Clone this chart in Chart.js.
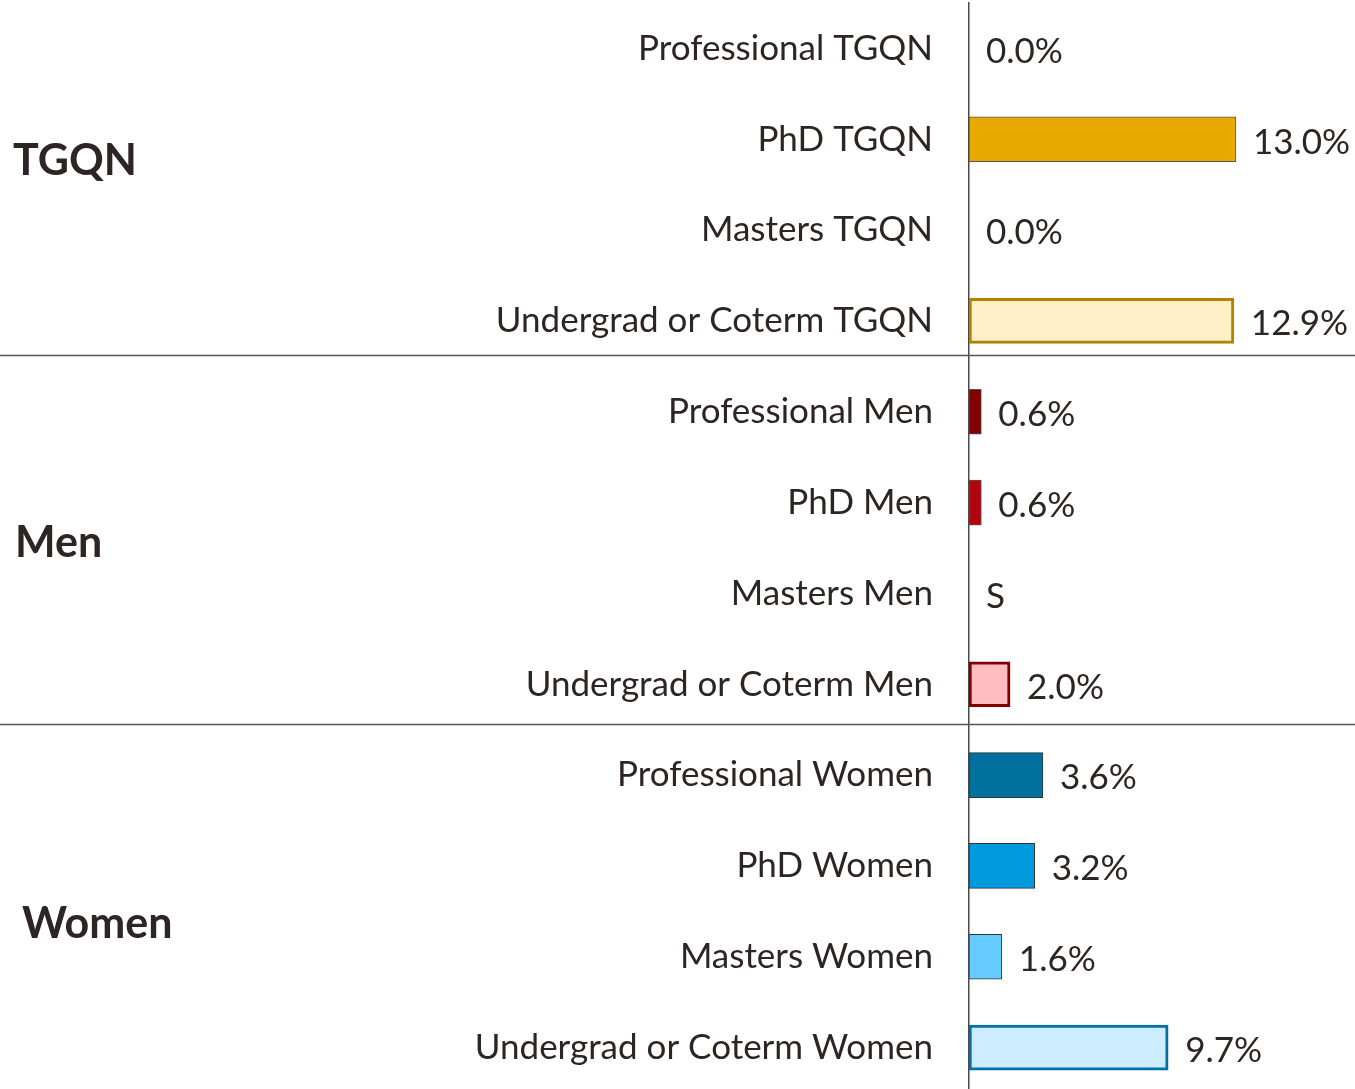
<!DOCTYPE html>
<html>
<head>
<meta charset="utf-8">
<script src="https://cdn.jsdelivr.net/npm/chart.js@4/dist/chart.umd.min.js"></script>
<style>
  html, body { margin: 0; padding: 0; background: #ffffff; overflow: hidden; }
  #wrap { width: 1355px; height: 1093px; }
</style>
</head>
<body>
<div id="wrap"><canvas id="c" width="1355" height="1093"></canvas></div>
<script>
const categories = [
  "Professional TGQN", "PhD TGQN", "Masters TGQN", "Undergrad or Coterm TGQN",
  "Professional Men", "PhD Men", "Masters Men", "Undergrad or Coterm Men",
  "Professional Women", "PhD Women", "Masters Women", "Undergrad or Coterm Women"
];
const values = [0.0, 13.0, 0.0, 12.9, 0.6, 0.6, null, 2.0, 3.6, 3.2, 1.6, 9.7];
const suppressedLabel = "S";
const groups = ["TGQN", "Men", "Women"];
const fillColors = [
  "#e8a900", "#e8a900", "#fff0c8", "#fff0c8",
  "#820000", "#b1040e", "#ffbcbf", "#ffbcbf",
  "#00709f", "#009ade", "#66ccff", "#ceecff"
];
const borderColors = [
  "#555555", "#555555", "#b38300", "#b38300",
  "#555555", "#555555", "#820000", "#820000",
  "#333333", "#333333", "#333333", "#0071a5"
];
const borderWidths = [1, 1, 3, 3, 1, 1, 3, 3, 1, 1, 1, 3];

const TEXT = "#2d2523";
const FONT = "Lato";

const overlay = {
  id: "overlay",
  afterDatasetsDraw(chart) {
    const ctx = chart.ctx;
    const y = chart.scales.y, x = chart.scales.x;
    const step = y.getPixelForValue(1) - y.getPixelForValue(0);
    ctx.save();
    // separator lines
    ctx.strokeStyle = "#555555";
    ctx.lineWidth = 1.3;
    [[3, 0.37], [7, 0.44]].forEach(([i, f]) => {
      const py = Math.round(y.getPixelForValue(i) + step * f) + 0.5;
      ctx.beginPath();
      ctx.moveTo(0, py);
      ctx.lineTo(chart.width, py);
      ctx.stroke();
    });
    // value labels
    ctx.fillStyle = TEXT;
    ctx.font = "35px " + FONT;
    ctx.textAlign = "left";
    ctx.textBaseline = "middle";
    values.forEach((v, i) => {
      const py = y.getPixelForValue(i) + 3;
      const txt = v === null ? suppressedLabel : v.toFixed(1) + "%";
      const px = x.getPixelForValue(v === null ? 0 : v) + 17;
      ctx.fillText(txt, px, py);
    });
    // group labels
    ctx.font = "bold 43px " + FONT;
    const anchors = [[1.24, 13], [5.45, 15], [9.64, 22]];
    groups.forEach((g, k) => {
      ctx.fillText(g, anchors[k][1], y.getPixelForValue(anchors[k][0]));
    });
    ctx.restore();
  }
};

new Chart(document.getElementById("c"), {
  type: "bar",
  data: {
    labels: categories,
    datasets: [{
      data: values.map(v => v === null ? 0 : v),
      backgroundColor: fillColors,
      borderColor: borderColors,
      borderWidth: borderWidths,
      borderSkipped: false,
      barThickness: 45
    }]
  },
  options: {
    indexAxis: "y",
    responsive: false,
    animation: false,
    layout: { padding: { top: 3, bottom: 0, left: 0, right: 0 } },
    plugins: { legend: { display: false }, tooltip: { enabled: false } },
    scales: {
      x: { display: false, min: 0, max: 18.8 },
      y: {
        afterFit(scale) {
          scale.width = 969;
          scale.paddingTop = 0;
          scale.paddingBottom = 0;
        },
        grid: { display: false, drawTicks: false },
        border: { display: true, color: "#4a4a4a", width: 1.5 },
        ticks: { color: TEXT, font: { family: FONT, size: 35 }, padding: 36 }
      }
    }
  },
  plugins: [overlay]
});
</script>
</body>
</html>
